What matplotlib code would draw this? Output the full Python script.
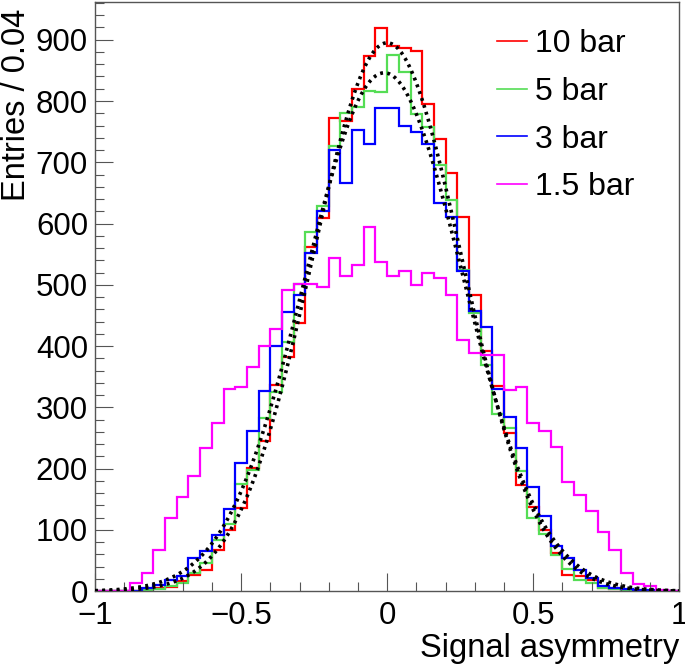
import numpy as np
import matplotlib
matplotlib.use("Agg")
from matplotlib import pyplot as plt
from matplotlib.lines import Line2D
from matplotlib.ticker import MultipleLocator, FuncFormatter

plt.rcParams['font.family'] = ['Liberation Sans', 'DejaVu Sans']

# 50 bins of width 0.04 from -1 to 1
EDGES = np.linspace(-1, 1, 51)

BAR_10 = [0, 0, 1, 1, 3, 5, 7, 16, 27, 34,
          68, 100, 136, 201, 246, 336, 382, 437, 562, 609,
          772, 768, 819, 874, 919, 890, 886, 882, 795, 738,
          683, 610, 484, 392, 335, 258, 173, 138, 100, 62,
          27, 25, 18, 6, 4, 2, 1, 1, 0, 0]
BAR_5 = [0, 0, 0, 1, 2, 4, 8, 14, 29, 46,
         84, 110, 175, 198, 282, 325, 406, 501, 587, 628,
         726, 780, 790, 817, 815, 875, 847, 778, 757, 695,
         639, 525, 454, 369, 290, 266, 196, 120, 94, 59,
         36, 18, 14, 5, 3, 1, 1, 0, 0, 0]
BAR_3 = [0, 0, 1, 1, 6, 10, 19, 25, 55, 65,
         92, 135, 209, 262, 326, 400, 456, 483, 552, 621,
         720, 666, 753, 730, 788, 788, 759, 750, 730, 634,
         610, 522, 458, 432, 330, 285, 234, 170, 123, 74,
         54, 35, 21, 9, 6, 4, 2, 2, 1, 1]
BAR_1_5 = [0, 0, 1, 14, 30, 67, 120, 153, 188, 233,
           274, 330, 334, 366, 400, 428, 491, 502, 502, 497,
           543, 514, 533, 594, 538, 514, 522, 500, 519, 511,
           483, 410, 389, 385, 385, 328, 333, 274, 262, 235,
           179, 157, 131, 96, 68, 29, 12, 8, 2, 1]

SERIES = [BAR_10, BAR_5, BAR_3, BAR_1_5]
LABELS = ["10 bar", "5 bar", "3 bar", "1.5 bar"]
COLORS = ["#ff0000", "#55dd55", "#0000ff", "#ff00ff"]

# gaussian fits (amplitude, mean, sigma)
FITS = [
    [895, 0.0, 0.256],
    [846, -0.01, 0.270],
]

fig = plt.figure(figsize=(6.85, 6.65), dpi=100)
ax = fig.add_axes([0.1387, 0.1109, 0.853, 0.8865])

for vals, col in zip(SERIES, COLORS):
    ax.stairs(vals, EDGES, color=col, lw=1.6)

xs = np.linspace(-1, 1, 600)
for amp, mu, sig in FITS:
    ax.plot(xs, amp * np.exp(-0.5 * ((xs - mu) / sig) ** 2), color='black',
            lw=2.6, ls=(0, (0.8, 1.2)), zorder=5)

ax.set_xlim(-1, 1)
ax.set_ylim(0, 962)
ax.xaxis.set_major_locator(MultipleLocator(0.5))
ax.xaxis.set_minor_locator(MultipleLocator(0.1))
ax.yaxis.set_major_locator(MultipleLocator(100))
ax.yaxis.set_minor_locator(MultipleLocator(20))
ax.xaxis.set_major_formatter(FuncFormatter(lambda v, p: f"{v:g}".replace("-", "\u2212")))

ax.tick_params(which='both', direction='in', top=False, right=False,
               color='#555555', width=0.8, labelsize=22.5)
ax.tick_params(which='major', length=13)
ax.tick_params(which='minor', length=6.5)
ax.tick_params(axis='x', pad=7)
ax.tick_params(axis='y', pad=5)
for sp in ax.spines.values():
    sp.set_color('#555555')
    sp.set_linewidth(1)

ax.set_xlabel("Signal asymmetry", fontsize=23.5, loc='right')
ax.xaxis.set_label_coords(1.0, -0.07)
ax.set_ylabel("Entries / 0.04", fontsize=23.5, loc='top')
ax.yaxis.set_label_coords(-0.107, 0.988)

handles = [Line2D([], [], color=c, lw=1.2) for c in COLORS]
ax.legend(handles, LABELS, loc='upper left', bbox_to_anchor=(0.688, 0.953),
          frameon=False, fontsize=23, handlelength=0.94, handletextpad=0.26,
          labelspacing=0.55, borderpad=0, borderaxespad=0)

fig.savefig('out.png', dpi=100)
